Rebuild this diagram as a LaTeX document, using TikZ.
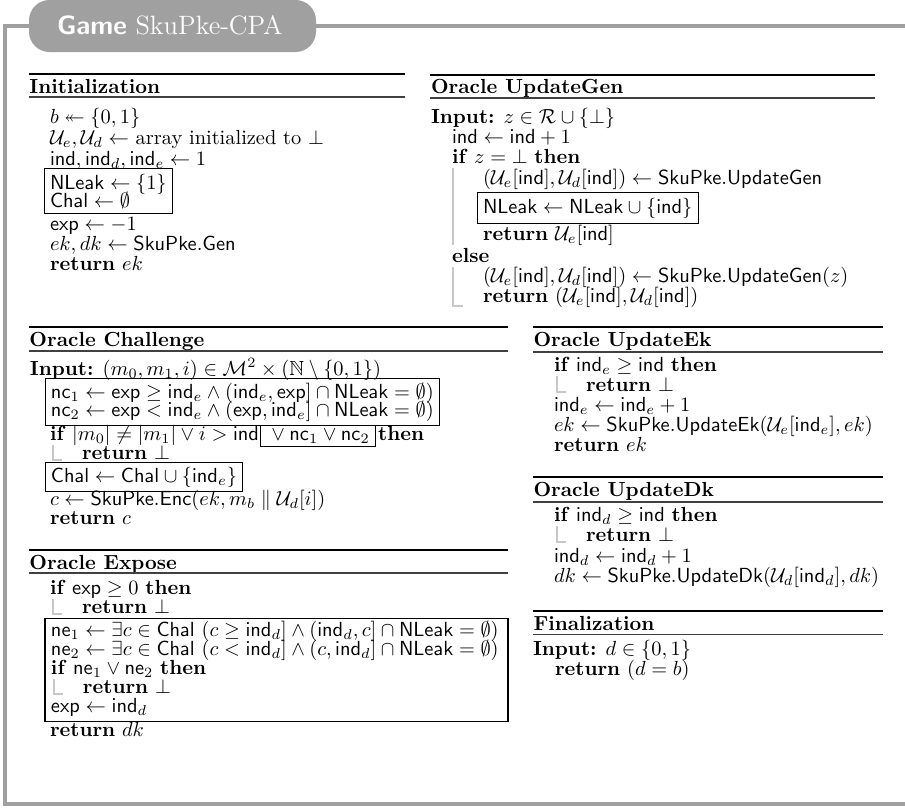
\documentclass[tikz,border=0pt]{standalone}
\usepackage{amssymb}
\usetikzlibrary{fit}
\definecolor{framegray}{HTML}{A0A0A0}
\definecolor{vlinegray}{HTML}{C8C8C8}
\newcommand{\sk}[1]{\mathsf{#1}}
\newcommand{\kw}[1]{\textbf{#1}}
\tikzset{
  ln/.style={anchor=base west, inner sep=0pt, outer sep=0pt, font=\normalsize},
  head/.style={ln, font=\normalsize\bfseries},
  thickrule/.style={line width=1.2pt, black},
  thinrule/.style={line width=0.5pt, black!75},
  hbox/.style={draw=black, line width=0.5pt},
  fitbox/.style={hbox, inner xsep=2.8pt, inner ysep=2.5pt},
  tightbox/.style={hbox, inner xsep=2.8pt, inner ysep=2pt},
  inlinebox/.style={ln, hbox, inner xsep=3pt, inner ysep=1.5pt},
  vline/.style={draw=vlinegray, line width=0.6pt},
  frameline/.style={draw=framegray, line width=2pt},
}
\begin{document}
\begin{tikzpicture}[x=0.4902pt, y=-0.4902pt]
\useasboundingbox (0,0) rectangle (905,807);
% outer frame and title tab
\draw[frameline] (906,26) -- (5,26) -- (5,804) -- (906,804);
\fill[framegray, rounded corners=10] (29,0) rectangle (316,52);
\node[ln, font=\fontsize{13}{15}\selectfont, text=white] (title) at (57,34) {{\sffamily\bfseries Game} SkuPke-CPA};

% ---------------- Initialization
\draw[thickrule] (29,74) -- (405,74);
\node[head] (hinit) at (29.5,93) {Initialization};
\draw[thinrule] (29,97) -- (405,97);
\node[ln] (i1) at (50,123) {$b \twoheadleftarrow \{0,1\}$};
\node[ln] (i2) at (50,144) {$\mathcal{U}_e, \mathcal{U}_d \leftarrow$ array initialized to $\bot$};
\node[ln] (i3) at (50,165) {$\sk{ind}, \sk{ind}_d, \sk{ind}_e \leftarrow 1$};
\node[ln] (i4) at (50,189) {$\sk{NLeak} \leftarrow \{1\}$};
\node[ln] (i5) at (50,207) {$\sk{Chal} \leftarrow \emptyset$};
\node[fitbox, fit=(i4)(i5)] (binit) {};
\node[ln] (i6) at (50,230) {$\sk{exp} \leftarrow -1$};
\node[ln] (i7) at (50,250) {$ek, dk \leftarrow \sk{SkuPke.Gen}$};
\node[ln] (i8) at (50,270) {\kw{return} $ek$};

% ---------------- Oracle UpdateGen
\draw[thickrule] (430,75) -- (875,75);
\node[head] (hgen) at (431,93) {Oracle UpdateGen};
\draw[thinrule] (430,98) -- (875,98);
\node[ln] (g1) at (431,123) {\kw{Input:} $z \in \mathcal{R} \cup \{\bot\}$};
\node[ln] (g2) at (452,143) {$\sk{ind} \leftarrow \sk{ind} + 1$};
\node[ln] (g3) at (452,163) {\kw{if} $z = \bot$ \kw{then}};
\node[ln] (g4) at (483,184) {$(\mathcal{U}_e[\sk{ind}], \mathcal{U}_d[\sk{ind}]) \leftarrow \sk{SkuPke.UpdateGen}$};
\node[ln] (g5) at (483,213) {$\sk{NLeak} \leftarrow \sk{NLeak} \cup \{\sk{ind}\}$};
\node[fitbox, fit=(g5)] (bgen) {};
\node[ln] (g6) at (483,240) {\kw{return} $\mathcal{U}_e[\sk{ind}]$};
\node[ln] (g7) at (452,262) {\kw{else}};
\node[ln] (g8) at (483,282) {$(\mathcal{U}_e[\sk{ind}], \mathcal{U}_d[\sk{ind}]) \leftarrow \sk{SkuPke.UpdateGen}(z)$};
\node[ln] (g9) at (483,302) {\kw{return} $(\mathcal{U}_e[\sk{ind}], \mathcal{U}_d[\sk{ind}])$};
\draw[vline] (453,168) -- (453,245);
\draw[vline] (453,267) -- (453,306) -- (463,306);

% ---------------- Oracle Challenge
\draw[thickrule] (29,327) -- (508,327);
\node[head] (hchal) at (29.5,346) {Oracle Challenge};
\draw[thinrule] (29,351) -- (508,351);
\node[ln] (c1) at (30,375) {\kw{Input:} $(m_0, m_1, i) \in \mathcal{M}^2 \times (\mathbb{N} \setminus \{0,1\})$};
\node[ln] (c2) at (51,398) {$\sk{nc}_1 \leftarrow \sk{exp} \geq \sk{ind}_e \wedge (\sk{ind}_e, \sk{exp}] \cap \sk{NLeak} = \emptyset)$};
\node[ln] (c3) at (51,416) {$\sk{nc}_2 \leftarrow \sk{exp} < \sk{ind}_e \wedge (\sk{exp}, \sk{ind}_e] \cap \sk{NLeak} = \emptyset)$};
\node[tightbox, fit=(c2)(c3)] (bnc) {};
\node[ln] (c4) at (50,440) {\kw{if} $|m_0| \neq |m_1| \vee i > \sk{ind}$};
\node[inlinebox] (c4box) at ([xshift=0.8pt]c4.base east) {${}\vee \sk{nc}_1 \vee \sk{nc}_2$};
\node[ln] (c4then) at ([xshift=1.2pt]c4box.base east) {\kw{then}};
\node[ln] (c5) at (82,459) {\kw{return} $\bot$};
\draw[vline] (53,445) -- (53,460) -- (62,460);
\node[ln] (c6) at (51,482) {$\sk{Chal} \leftarrow \sk{Chal} \cup \{\sk{ind}_e\}$};
\node[tightbox, fit=(c6)] (bchal) {};
\node[ln] (c7) at (50,505) {$c \leftarrow \sk{SkuPke.Enc}(ek, m_b \parallel \mathcal{U}_d[i])$};
\node[ln] (c8) at (50,524) {\kw{return} $c$};

% ---------------- Oracle Expose
\draw[thickrule] (29,550) -- (508,550);
\node[head] (hexp) at (29.5,569) {Oracle Expose};
\draw[thinrule] (29,573) -- (508,573);
\node[ln] (e1) at (50,594) {\kw{if} $\sk{exp} \geq 0$ \kw{then}};
\node[ln] (e2) at (82,613) {\kw{return} $\bot$};
\draw[vline] (53,599) -- (53,614) -- (62,614);
\draw[hbox] (45,618) rectangle (508,721);
\node[ln] (e3) at (51,636) {$\sk{ne}_1 \leftarrow \exists c \in \sk{Chal}\ (c \geq \sk{ind}_d] \wedge (\sk{ind}_d, c] \cap \sk{NLeak} = \emptyset)$};
\node[ln] (e4) at (51,655) {$\sk{ne}_2 \leftarrow \exists c \in \sk{Chal}\ (c < \sk{ind}_d] \wedge (c, \sk{ind}_d] \cap \sk{NLeak} = \emptyset)$};
\node[ln] (e5) at (51,674) {\kw{if} $\sk{ne}_1 \vee \sk{ne}_2$ \kw{then}};
\node[ln] (e6) at (83,693) {\kw{return} $\bot$};
\draw[vline] (54,679) -- (54,694) -- (63,694);
\node[ln] (e7) at (51,712) {$\sk{exp} \leftarrow \sk{ind}_d$};
\node[ln] (e8) at (50,736) {\kw{return} $dk$};

% ---------------- Oracle UpdateEk
\draw[thickrule] (533,327) -- (883,327);
\node[head] (hek) at (533.5,346) {Oracle UpdateEk};
\draw[thinrule] (533,352) -- (883,352);
\node[ln] (k1) at (554,371) {\kw{if} $\sk{ind}_e \geq \sk{ind}$ \kw{then}};
\node[ln] (k2) at (586,391) {\kw{return} $\bot$};
\draw[vline] (557,376) -- (557,392) -- (566,392);
\node[ln] (k3) at (554,411) {$\sk{ind}_e \leftarrow \sk{ind}_e + 1$};
\node[ln] (k4) at (554,431) {$ek \leftarrow \sk{SkuPke.UpdateEk}(\mathcal{U}_e[\sk{ind}_e], ek)$};
\node[ln] (k5) at (554,451) {\kw{return} $ek$};

% ---------------- Oracle UpdateDk
\draw[thickrule] (533,477) -- (883,477);
\node[head] (hdk) at (533.5,496) {Oracle UpdateDk};
\draw[thinrule] (533,502) -- (883,502);
\node[ln] (d1) at (554,521) {\kw{if} $\sk{ind}_d \geq \sk{ind}$ \kw{then}};
\node[ln] (d2) at (586,541) {\kw{return} $\bot$};
\draw[vline] (557,526) -- (557,542) -- (566,542);
\node[ln] (d3) at (554,562) {$\sk{ind}_d \leftarrow \sk{ind}_d + 1$};
\node[ln] (d4) at (554,582) {$dk \leftarrow \sk{SkuPke.UpdateDk}(\mathcal{U}_d[\sk{ind}_d], dk)$};

% ---------------- Finalization
\draw[thickrule] (533,611) -- (883,611);
\node[head] (hfin) at (533.5,630) {Finalization};
\draw[thinrule] (533,634) -- (883,634);
\node[ln] (f1) at (533,655) {\kw{Input:} $d \in \{0,1\}$};
\node[ln] (f2) at (555,675) {\kw{return} $(d = b)$};
\end{tikzpicture}
\end{document}
